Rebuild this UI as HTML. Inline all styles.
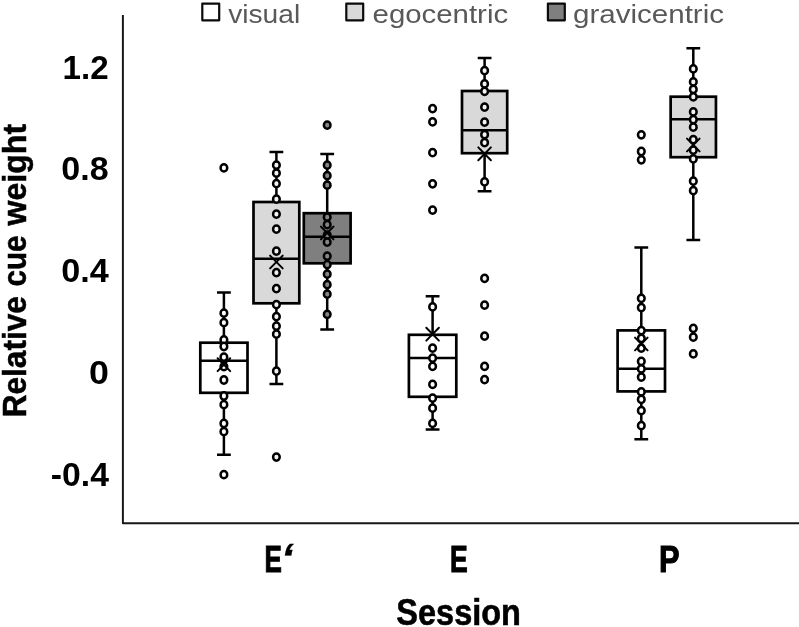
<!DOCTYPE html>
<html lang="en"><head><meta charset="utf-8"><title>Relative cue weight by session</title>
<style>
html,body{margin:0;padding:0;background:#fff;}
body{width:799px;height:627px;overflow:hidden;}
svg{display:block;will-change:transform;filter:blur(0.45px);font-family:"Liberation Sans","DejaVu Sans",sans-serif;}
</style></head><body>
<svg width="799" height="627" viewBox="0 0 799 627">
<rect width="799" height="627" fill="#fff"/>
<path d="M122.9 15V523.25H800" fill="none" stroke="#161616" stroke-width="1.95" stroke-linejoin="round"/>
<g><path d="M223.9 292.5V342.7M223.9 392.8V454.7M217.0 292.5H230.8M217.0 454.7H230.8" stroke="#000" stroke-width="2.5" fill="none"/><rect x="200.30" y="342.7" width="47.20" height="50.10" fill="#ffffff" stroke="#000" stroke-width="2.7"/><path d="M200.30 360.8H247.50" stroke="#000" stroke-width="2.5"/><ellipse cx="223.9" cy="313.20" rx="3.32" ry="3.65" fill="#ffffff" stroke="#000" stroke-width="2.5"/><ellipse cx="223.9" cy="322.70" rx="3.32" ry="3.65" fill="#ffffff" stroke="#000" stroke-width="2.5"/><ellipse cx="223.9" cy="340.00" rx="3.32" ry="3.65" fill="#ffffff" stroke="#000" stroke-width="2.5"/><ellipse cx="223.9" cy="346.50" rx="3.32" ry="3.65" fill="#ffffff" stroke="#000" stroke-width="2.5"/><ellipse cx="223.9" cy="357.20" rx="3.32" ry="3.65" fill="#ffffff" stroke="#000" stroke-width="2.5"/><ellipse cx="223.9" cy="366.70" rx="3.32" ry="3.65" fill="#ffffff" stroke="#000" stroke-width="2.5"/><ellipse cx="223.9" cy="380.00" rx="3.32" ry="3.65" fill="#ffffff" stroke="#000" stroke-width="2.5"/><ellipse cx="223.9" cy="396.00" rx="3.32" ry="3.65" fill="#ffffff" stroke="#000" stroke-width="2.5"/><ellipse cx="223.9" cy="404.70" rx="3.32" ry="3.65" fill="#ffffff" stroke="#000" stroke-width="2.5"/><ellipse cx="223.9" cy="423.50" rx="3.32" ry="3.65" fill="#ffffff" stroke="#000" stroke-width="2.5"/><ellipse cx="223.9" cy="431.70" rx="3.32" ry="3.65" fill="#ffffff" stroke="#000" stroke-width="2.5"/><ellipse cx="223.9" cy="167.90" rx="3.32" ry="3.65" fill="#ffffff" stroke="#000" stroke-width="2.5"/><ellipse cx="223.9" cy="474.70" rx="3.32" ry="3.65" fill="#ffffff" stroke="#000" stroke-width="2.5"/><path d="M217.6 358.3L230.20000000000002 371.09999999999997M230.20000000000002 358.3L217.6 371.09999999999997" stroke="#000" stroke-width="2.0" stroke-linecap="round" fill="none"/></g>
<g><path d="M276.4 152V202M276.4 303.3V384M269.5 152H283.29999999999995M269.5 384H283.29999999999995" stroke="#000" stroke-width="2.5" fill="none"/><rect x="253.50" y="202" width="45.80" height="101.30" fill="#d9d9d9" stroke="#000" stroke-width="2.7"/><path d="M253.50 258.75H299.30" stroke="#000" stroke-width="2.5"/><ellipse cx="276.4" cy="165.20" rx="3.32" ry="3.65" fill="#f2f2f2" stroke="#000" stroke-width="2.5"/><ellipse cx="276.4" cy="173.20" rx="3.32" ry="3.65" fill="#f2f2f2" stroke="#000" stroke-width="2.5"/><ellipse cx="276.4" cy="183.70" rx="3.32" ry="3.65" fill="#f2f2f2" stroke="#000" stroke-width="2.5"/><ellipse cx="276.4" cy="199.20" rx="3.32" ry="3.65" fill="#f2f2f2" stroke="#000" stroke-width="2.5"/><ellipse cx="276.4" cy="214.20" rx="3.32" ry="3.65" fill="#f2f2f2" stroke="#000" stroke-width="2.5"/><ellipse cx="276.4" cy="229.20" rx="3.32" ry="3.65" fill="#f2f2f2" stroke="#000" stroke-width="2.5"/><ellipse cx="276.4" cy="251.20" rx="3.32" ry="3.65" fill="#f2f2f2" stroke="#000" stroke-width="2.5"/><ellipse cx="276.4" cy="272.70" rx="3.32" ry="3.65" fill="#f2f2f2" stroke="#000" stroke-width="2.5"/><ellipse cx="276.4" cy="288.70" rx="3.32" ry="3.65" fill="#f2f2f2" stroke="#000" stroke-width="2.5"/><ellipse cx="276.4" cy="304.70" rx="3.32" ry="3.65" fill="#f2f2f2" stroke="#000" stroke-width="2.5"/><ellipse cx="276.4" cy="316.70" rx="3.32" ry="3.65" fill="#f2f2f2" stroke="#000" stroke-width="2.5"/><ellipse cx="276.4" cy="326.20" rx="3.32" ry="3.65" fill="#f2f2f2" stroke="#000" stroke-width="2.5"/><ellipse cx="276.4" cy="334.20" rx="3.32" ry="3.65" fill="#f2f2f2" stroke="#000" stroke-width="2.5"/><ellipse cx="276.4" cy="371.20" rx="3.32" ry="3.65" fill="#f2f2f2" stroke="#000" stroke-width="2.5"/><ellipse cx="276.4" cy="457.10" rx="3.32" ry="3.65" fill="#f2f2f2" stroke="#000" stroke-width="2.5"/><path d="M270.09999999999997 255.6L282.7 268.4M282.7 255.6L270.09999999999997 268.4" stroke="#000" stroke-width="2.0" stroke-linecap="round" fill="none"/></g>
<g><path d="M327.2 154V213.2M327.2 263.3V329.5M320.3 154H334.09999999999997M320.3 329.5H334.09999999999997" stroke="#000" stroke-width="2.5" fill="none"/><rect x="303.80" y="213.2" width="46.80" height="50.10" fill="#7f7f7f" stroke="#000" stroke-width="2.7"/><path d="M303.80 236.7H350.60" stroke="#000" stroke-width="2.5"/><ellipse cx="327.2" cy="165.20" rx="3.32" ry="3.65" fill="#858585" stroke="#000" stroke-width="2.5"/><ellipse cx="327.2" cy="175.70" rx="3.32" ry="3.65" fill="#858585" stroke="#000" stroke-width="2.5"/><ellipse cx="327.2" cy="185.20" rx="3.32" ry="3.65" fill="#858585" stroke="#000" stroke-width="2.5"/><ellipse cx="327.2" cy="217.20" rx="3.32" ry="3.65" fill="#858585" stroke="#000" stroke-width="2.5"/><ellipse cx="327.2" cy="224.70" rx="3.32" ry="3.65" fill="#858585" stroke="#000" stroke-width="2.5"/><ellipse cx="327.2" cy="235.20" rx="3.32" ry="3.65" fill="#858585" stroke="#000" stroke-width="2.5"/><ellipse cx="327.2" cy="242.20" rx="3.32" ry="3.65" fill="#858585" stroke="#000" stroke-width="2.5"/><ellipse cx="327.2" cy="256.20" rx="3.32" ry="3.65" fill="#858585" stroke="#000" stroke-width="2.5"/><ellipse cx="327.2" cy="264.70" rx="3.32" ry="3.65" fill="#858585" stroke="#000" stroke-width="2.5"/><ellipse cx="327.2" cy="274.20" rx="3.32" ry="3.65" fill="#858585" stroke="#000" stroke-width="2.5"/><ellipse cx="327.2" cy="284.70" rx="3.32" ry="3.65" fill="#858585" stroke="#000" stroke-width="2.5"/><ellipse cx="327.2" cy="294.20" rx="3.32" ry="3.65" fill="#858585" stroke="#000" stroke-width="2.5"/><ellipse cx="327.2" cy="314.40" rx="3.32" ry="3.65" fill="#858585" stroke="#000" stroke-width="2.5"/><ellipse cx="327.2" cy="125.20" rx="3.32" ry="3.65" fill="#858585" stroke="#000" stroke-width="2.5"/><path d="M320.9 226.6L333.5 239.4M333.5 226.6L320.9 239.4" stroke="#000" stroke-width="2.0" stroke-linecap="round" fill="none"/></g>
<g><path d="M432.6 296.25V334.8M432.6 396.8V429.6M425.70000000000005 296.25H439.5M425.70000000000005 429.6H439.5" stroke="#000" stroke-width="2.5" fill="none"/><rect x="408.90" y="334.8" width="47.40" height="62.00" fill="#ffffff" stroke="#000" stroke-width="2.7"/><path d="M408.90 358.1H456.30" stroke="#000" stroke-width="2.5"/><ellipse cx="432.6" cy="306.95" rx="3.32" ry="3.65" fill="#ffffff" stroke="#000" stroke-width="2.5"/><ellipse cx="432.6" cy="348.20" rx="3.32" ry="3.65" fill="#ffffff" stroke="#000" stroke-width="2.5"/><ellipse cx="432.6" cy="358.20" rx="3.32" ry="3.65" fill="#ffffff" stroke="#000" stroke-width="2.5"/><ellipse cx="432.6" cy="366.45" rx="3.32" ry="3.65" fill="#ffffff" stroke="#000" stroke-width="2.5"/><ellipse cx="432.6" cy="384.45" rx="3.32" ry="3.65" fill="#ffffff" stroke="#000" stroke-width="2.5"/><ellipse cx="432.6" cy="398.20" rx="3.32" ry="3.65" fill="#ffffff" stroke="#000" stroke-width="2.5"/><ellipse cx="432.6" cy="408.20" rx="3.32" ry="3.65" fill="#ffffff" stroke="#000" stroke-width="2.5"/><ellipse cx="432.6" cy="423.45" rx="3.32" ry="3.65" fill="#ffffff" stroke="#000" stroke-width="2.5"/><ellipse cx="432.6" cy="108.70" rx="3.32" ry="3.65" fill="#ffffff" stroke="#000" stroke-width="2.5"/><ellipse cx="432.6" cy="121.95" rx="3.32" ry="3.65" fill="#ffffff" stroke="#000" stroke-width="2.5"/><ellipse cx="432.6" cy="152.70" rx="3.32" ry="3.65" fill="#ffffff" stroke="#000" stroke-width="2.5"/><ellipse cx="432.6" cy="183.80" rx="3.32" ry="3.65" fill="#ffffff" stroke="#000" stroke-width="2.5"/><ellipse cx="432.6" cy="210.20" rx="3.32" ry="3.65" fill="#ffffff" stroke="#000" stroke-width="2.5"/><path d="M426.3 327.8L438.90000000000003 340.59999999999997M438.90000000000003 327.8L426.3 340.59999999999997" stroke="#000" stroke-width="2.0" stroke-linecap="round" fill="none"/></g>
<g><path d="M484.6 58V91M484.6 153.2V191.3M477.70000000000005 58H491.5M477.70000000000005 191.3H491.5" stroke="#000" stroke-width="2.5" fill="none"/><rect x="462.00" y="91" width="45.20" height="62.20" fill="#d9d9d9" stroke="#000" stroke-width="2.7"/><path d="M462.00 130.2H507.20" stroke="#000" stroke-width="2.5"/><ellipse cx="484.6" cy="70.70" rx="3.32" ry="3.65" fill="#f2f2f2" stroke="#000" stroke-width="2.5"/><ellipse cx="484.6" cy="83.95" rx="3.32" ry="3.65" fill="#f2f2f2" stroke="#000" stroke-width="2.5"/><ellipse cx="484.6" cy="91.45" rx="3.32" ry="3.65" fill="#f2f2f2" stroke="#000" stroke-width="2.5"/><ellipse cx="484.6" cy="107.20" rx="3.32" ry="3.65" fill="#f2f2f2" stroke="#000" stroke-width="2.5"/><ellipse cx="484.6" cy="122.20" rx="3.32" ry="3.65" fill="#f2f2f2" stroke="#000" stroke-width="2.5"/><ellipse cx="484.6" cy="134.70" rx="3.32" ry="3.65" fill="#f2f2f2" stroke="#000" stroke-width="2.5"/><ellipse cx="484.6" cy="142.70" rx="3.32" ry="3.65" fill="#f2f2f2" stroke="#000" stroke-width="2.5"/><ellipse cx="484.6" cy="181.95" rx="3.32" ry="3.65" fill="#f2f2f2" stroke="#000" stroke-width="2.5"/><ellipse cx="484.6" cy="278.45" rx="3.32" ry="3.65" fill="#f2f2f2" stroke="#000" stroke-width="2.5"/><ellipse cx="484.6" cy="305.20" rx="3.32" ry="3.65" fill="#f2f2f2" stroke="#000" stroke-width="2.5"/><ellipse cx="484.6" cy="336.20" rx="3.32" ry="3.65" fill="#f2f2f2" stroke="#000" stroke-width="2.5"/><ellipse cx="484.6" cy="366.45" rx="3.32" ry="3.65" fill="#f2f2f2" stroke="#000" stroke-width="2.5"/><ellipse cx="484.6" cy="379.70" rx="3.32" ry="3.65" fill="#f2f2f2" stroke="#000" stroke-width="2.5"/><path d="M478.3 147.4L490.90000000000003 160.20000000000002M490.90000000000003 147.4L478.3 160.20000000000002" stroke="#000" stroke-width="2.0" stroke-linecap="round" fill="none"/></g>
<g><path d="M641.3 247.5V330.4M641.3 391.4V439.25M634.4 247.5H648.1999999999999M634.4 439.25H648.1999999999999" stroke="#000" stroke-width="2.5" fill="none"/><rect x="617.60" y="330.4" width="47.40" height="61.00" fill="#ffffff" stroke="#000" stroke-width="2.7"/><path d="M617.60 368.7H665.00" stroke="#000" stroke-width="2.5"/><ellipse cx="641.3" cy="298.45" rx="3.32" ry="3.65" fill="#ffffff" stroke="#000" stroke-width="2.5"/><ellipse cx="641.3" cy="307.70" rx="3.32" ry="3.65" fill="#ffffff" stroke="#000" stroke-width="2.5"/><ellipse cx="641.3" cy="330.70" rx="3.32" ry="3.65" fill="#ffffff" stroke="#000" stroke-width="2.5"/><ellipse cx="641.3" cy="338.45" rx="3.32" ry="3.65" fill="#ffffff" stroke="#000" stroke-width="2.5"/><ellipse cx="641.3" cy="348.20" rx="3.32" ry="3.65" fill="#ffffff" stroke="#000" stroke-width="2.5"/><ellipse cx="641.3" cy="361.45" rx="3.32" ry="3.65" fill="#ffffff" stroke="#000" stroke-width="2.5"/><ellipse cx="641.3" cy="368.95" rx="3.32" ry="3.65" fill="#ffffff" stroke="#000" stroke-width="2.5"/><ellipse cx="641.3" cy="377.20" rx="3.32" ry="3.65" fill="#ffffff" stroke="#000" stroke-width="2.5"/><ellipse cx="641.3" cy="391.95" rx="3.32" ry="3.65" fill="#ffffff" stroke="#000" stroke-width="2.5"/><ellipse cx="641.3" cy="399.45" rx="3.32" ry="3.65" fill="#ffffff" stroke="#000" stroke-width="2.5"/><ellipse cx="641.3" cy="410.70" rx="3.32" ry="3.65" fill="#ffffff" stroke="#000" stroke-width="2.5"/><ellipse cx="641.3" cy="425.70" rx="3.32" ry="3.65" fill="#ffffff" stroke="#000" stroke-width="2.5"/><ellipse cx="641.3" cy="134.80" rx="3.32" ry="3.65" fill="#ffffff" stroke="#000" stroke-width="2.5"/><ellipse cx="641.3" cy="151.50" rx="3.32" ry="3.65" fill="#ffffff" stroke="#000" stroke-width="2.5"/><ellipse cx="641.3" cy="159.80" rx="3.32" ry="3.65" fill="#ffffff" stroke="#000" stroke-width="2.5"/><path d="M635.0 337.6L647.5999999999999 350.4M647.5999999999999 337.6L635.0 350.4" stroke="#000" stroke-width="2.0" stroke-linecap="round" fill="none"/></g>
<g><path d="M693.3 48.25V96.7M693.3 157.2V240M686.4 48.25H700.1999999999999M686.4 240H700.1999999999999" stroke="#000" stroke-width="2.5" fill="none"/><rect x="670.65" y="96.7" width="45.30" height="60.50" fill="#d9d9d9" stroke="#000" stroke-width="2.7"/><path d="M670.65 119.3H715.95" stroke="#000" stroke-width="2.5"/><ellipse cx="693.3" cy="68.95" rx="3.32" ry="3.65" fill="#f2f2f2" stroke="#000" stroke-width="2.5"/><ellipse cx="693.3" cy="81.95" rx="3.32" ry="3.65" fill="#f2f2f2" stroke="#000" stroke-width="2.5"/><ellipse cx="693.3" cy="89.45" rx="3.32" ry="3.65" fill="#f2f2f2" stroke="#000" stroke-width="2.5"/><ellipse cx="693.3" cy="96.95" rx="3.32" ry="3.65" fill="#f2f2f2" stroke="#000" stroke-width="2.5"/><ellipse cx="693.3" cy="111.95" rx="3.32" ry="3.65" fill="#f2f2f2" stroke="#000" stroke-width="2.5"/><ellipse cx="693.3" cy="119.70" rx="3.32" ry="3.65" fill="#f2f2f2" stroke="#000" stroke-width="2.5"/><ellipse cx="693.3" cy="127.20" rx="3.32" ry="3.65" fill="#f2f2f2" stroke="#000" stroke-width="2.5"/><ellipse cx="693.3" cy="139.70" rx="3.32" ry="3.65" fill="#f2f2f2" stroke="#000" stroke-width="2.5"/><ellipse cx="693.3" cy="150.20" rx="3.32" ry="3.65" fill="#f2f2f2" stroke="#000" stroke-width="2.5"/><ellipse cx="693.3" cy="158.95" rx="3.32" ry="3.65" fill="#f2f2f2" stroke="#000" stroke-width="2.5"/><ellipse cx="693.3" cy="181.20" rx="3.32" ry="3.65" fill="#f2f2f2" stroke="#000" stroke-width="2.5"/><ellipse cx="693.3" cy="190.70" rx="3.32" ry="3.65" fill="#f2f2f2" stroke="#000" stroke-width="2.5"/><ellipse cx="693.3" cy="328.45" rx="3.32" ry="3.65" fill="#f2f2f2" stroke="#000" stroke-width="2.5"/><ellipse cx="693.3" cy="337.20" rx="3.32" ry="3.65" fill="#f2f2f2" stroke="#000" stroke-width="2.5"/><ellipse cx="693.3" cy="353.95" rx="3.32" ry="3.65" fill="#f2f2f2" stroke="#000" stroke-width="2.5"/><path d="M687.0 138.6L699.5999999999999 151.4M699.5999999999999 138.6L687.0 151.4" stroke="#000" stroke-width="2.0" stroke-linecap="round" fill="none"/></g>
<rect x="202.3" y="3.6" width="16.9" height="16.7" fill="#ffffff" stroke="#0a0a0a" stroke-width="2.2" stroke-linejoin="round"/>
<text x="228.2" y="23.2" font-size="26.3" fill="#595959" textLength="72" lengthAdjust="spacingAndGlyphs">visual</text>
<rect x="346.3" y="3.6" width="16.9" height="16.7" fill="#d9d9d9" stroke="#0a0a0a" stroke-width="2.2" stroke-linejoin="round"/>
<text x="372.6" y="23.2" font-size="26.3" fill="#595959" textLength="135.5" lengthAdjust="spacingAndGlyphs">egocentric</text>
<rect x="547.9" y="3.6" width="16.9" height="16.7" fill="#7f7f7f" stroke="#0a0a0a" stroke-width="2.2" stroke-linejoin="round"/>
<text x="573.0" y="23.2" font-size="26.3" fill="#595959" textLength="151" lengthAdjust="spacingAndGlyphs">gravicentric</text>
<text x="62.5" y="79.1" font-size="32.8" font-weight="bold" fill="#000" textLength="46.099999999999994" lengthAdjust="spacingAndGlyphs">1.2</text>
<text x="61.3" y="180.3" font-size="32.8" font-weight="bold" fill="#000" textLength="47.3" lengthAdjust="spacingAndGlyphs">0.8</text>
<text x="61.3" y="282.1" font-size="32.8" font-weight="bold" fill="#000" textLength="47.5" lengthAdjust="spacingAndGlyphs">0.4</text>
<text x="88.9" y="384.1" font-size="32.8" font-weight="bold" fill="#000" textLength="19.89999999999999" lengthAdjust="spacingAndGlyphs">0</text>
<text x="50.8" y="486.2" font-size="32.8" font-weight="bold" fill="#000" textLength="58.10000000000001" lengthAdjust="spacingAndGlyphs">-0.4</text>
<text transform="translate(0 571.8)" font-size="37.2" font-weight="bold" fill="#000" stroke="#000" stroke-width="1.1"><tspan x="264.41" textLength="17.36" lengthAdjust="spacingAndGlyphs">E</tspan><tspan x="280.8" y="1.2" font-size="43" font-style="italic" stroke-width="0.3" textLength="12.5" lengthAdjust="spacingAndGlyphs">‘</tspan></text>
<text transform="translate(0 571.8)" font-size="37.2" font-weight="bold" fill="#000" stroke="#000" stroke-width="1.1"><tspan x="450.07" textLength="17.71" lengthAdjust="spacingAndGlyphs">E</tspan></text>
<text transform="translate(0 571.8)" font-size="37.2" font-weight="bold" fill="#000" stroke="#000" stroke-width="1.1"><tspan x="659.09" textLength="20.51" lengthAdjust="spacingAndGlyphs">P</tspan></text>
<text transform="translate(0 625.4)" font-size="36.5" font-weight="bold" fill="#000" stroke="#000" stroke-width="0.6"><tspan x="396.36" textLength="124.55" lengthAdjust="spacingAndGlyphs">Session</tspan></text>
<text transform="translate(26.0 415.4) rotate(-90)" font-size="32.5" font-weight="bold" fill="#000" stroke="#000" stroke-width="0.5"><tspan x="-1.86" textLength="121.09" lengthAdjust="spacingAndGlyphs">Relative</tspan> <tspan x="128.89" textLength="50.97" lengthAdjust="spacingAndGlyphs">cue</tspan> <tspan x="189.84" textLength="101.70" lengthAdjust="spacingAndGlyphs">weight</tspan></text>
</svg>
</body></html>
